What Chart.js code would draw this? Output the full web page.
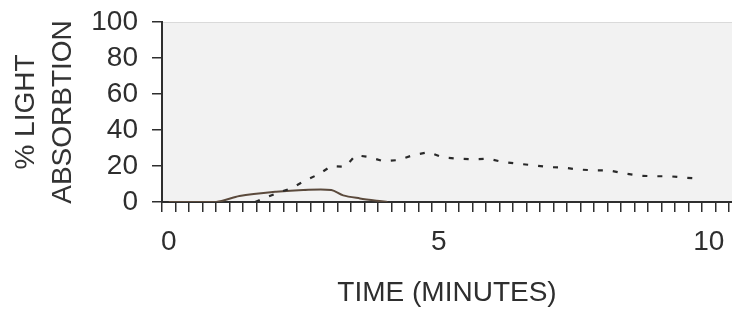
<!DOCTYPE html>
<html>
<head>
<meta charset="utf-8">
<script src="https://cdn.jsdelivr.net/npm/chart.js@4"></script>
<style>
  html, body { margin: 0; padding: 0; background: #fff; }
  #wrap { width: 732px; height: 310px; }
</style>
</head>
<body>
<div id="wrap"><canvas id="absChart" width="732" height="310"></canvas></div>
<script>
// dashed curve (minutes, % absorption)
const dashedX = [1.6, 1.99, 2.27, 2.52, 2.78, 3.01, 3.27, 3.46, 3.71, 3.98, 4.25, 4.52, 4.81, 5.07, 5.35, 5.63, 5.91, 6.19, 6.46, 6.75, 7.03, 7.31, 7.6, 7.88, 8.15, 8.43, 8.72, 9.0, 9.28, 9.56, 9.85];
const dashedY = [0, 4.8, 7.6, 11.8, 15.5, 20, 19.6, 26, 25, 22.6, 23.3, 26, 27.7, 24.8, 24.1, 23.7, 24.1, 22.2, 21.3, 20.4, 19.4, 19.1, 18, 17.6, 17.6, 15.9, 14.6, 14.3, 14.3, 13.5, 12.9];

// solid curve
const solidX = [0, 0.88, 1.31, 1.99, 2.49, 3.01, 3.23, 3.54, 3.85, 4.05];
const solidY = [0, 0, 3.3, 5.7, 6.7, 6.7, 3.7, 2.0, 0.7, 0];

const xLabels = [0, 5, 10];
const yLabels = [0, 20, 40, 60, 80, 100];

const font = "'Liberation Sans', Arial, sans-serif";
const ink = "#2e2e2e";

const plotBg = {
  id: "plotBg",
  beforeDraw(chart) {
    const { ctx, chartArea: a } = chart;
    ctx.save();
    ctx.fillStyle = "#f2f2f2";
    ctx.fillRect(a.left, a.top, a.right - a.left, a.bottom - a.top);
    ctx.strokeStyle = "#dadada";
    ctx.lineWidth = 1;
    ctx.beginPath();
    ctx.moveTo(a.left, a.top + 0.5);
    ctx.lineTo(a.right, a.top + 0.5);
    ctx.stroke();
    ctx.restore();
  },
};

const noPad = (s) => {
  s.paddingTop = 0;
  s.paddingBottom = 0;
  s.paddingLeft = 0;
  s.paddingRight = 0;
};

new Chart(document.getElementById("absChart"), {
  type: "line",
  data: {
    datasets: [
      {
        label: "dashed",
        data: dashedX.map((x, i) => ({ x, y: dashedY[i] })),
        borderColor: "#2a2a2a",
        borderWidth: 2.2,
        borderDash: [5, 10],
        pointRadius: 0,
        tension: 0,
      },
      {
        label: "solid",
        data: solidX.map((x, i) => ({ x, y: solidY[i] })),
        borderColor: "#5b4a3c",
        borderWidth: 2,
        pointRadius: 0,
        tension: 0.3,
      },
    ],
  },
  plugins: [plotBg],
  options: {
    responsive: false,
    animation: false,
    layout: { padding: { top: 22, right: 0, left: 0, bottom: 0 } },
    plugins: { legend: { display: false }, tooltip: { enabled: false } },
    scales: {
      xt: {
        type: "linear",
        position: "bottom",
        min: -0.125,
        max: 10.43,
        weight: 0,
        afterBuildTicks: (s) => {
          const t = [];
          for (let k = 0; k <= 42; k++) t.push({ value: -0.125 + 0.25 * k });
          s.ticks = t;
        },
        afterFit: (s) => { s.height = 11; noPad(s); },
        grid: { drawOnChartArea: false, tickLength: 10, color: ink, lineWidth: 1.5 },
        border: { display: true, color: ink, width: 2 },
        ticks: { autoSkip: false, maxRotation: 0, padding: 0, font: { size: 1 }, callback: () => "" },
      },
      x: {
        type: "linear",
        position: "bottom",
        min: -0.125,
        max: 10.43,
        weight: 1,
        afterBuildTicks: (s) => { s.ticks = xLabels.map((v) => ({ value: v })); },
        afterFit: (s) => { s.height = 97; noPad(s); },
        grid: { display: false, drawTicks: false },
        border: { display: false },
        ticks: { autoSkip: false, maxRotation: 0, padding: 12, color: ink, font: { family: font, size: 28 } },
        title: { display: true, text: "TIME (MINUTES)", color: ink, padding: 0, font: { family: font, size: 28 } },
      },
      y: {
        min: 0,
        max: 100,
        afterBuildTicks: (s) => { s.ticks = yLabels.map((v) => ({ value: v })); },
        afterFit: (s) => { s.width = 162; noPad(s); },
        grid: { drawOnChartArea: false, tickLength: 10, color: ink, lineWidth: 1.5 },
        border: { display: true, color: ink, width: 2 },
        ticks: { autoSkip: false, padding: 14, color: ink, font: { family: font, size: 28 } },
        title: {
          display: true,
          text: ["% LIGHT", "ABSORBTION"],
          color: "#333333",
          padding: { top: 8, bottom: 0 },
          font: { family: font, size: 28, lineHeight: 1.32 },
        },
      },
    },
  },
});
</script>
</body>
</html>
